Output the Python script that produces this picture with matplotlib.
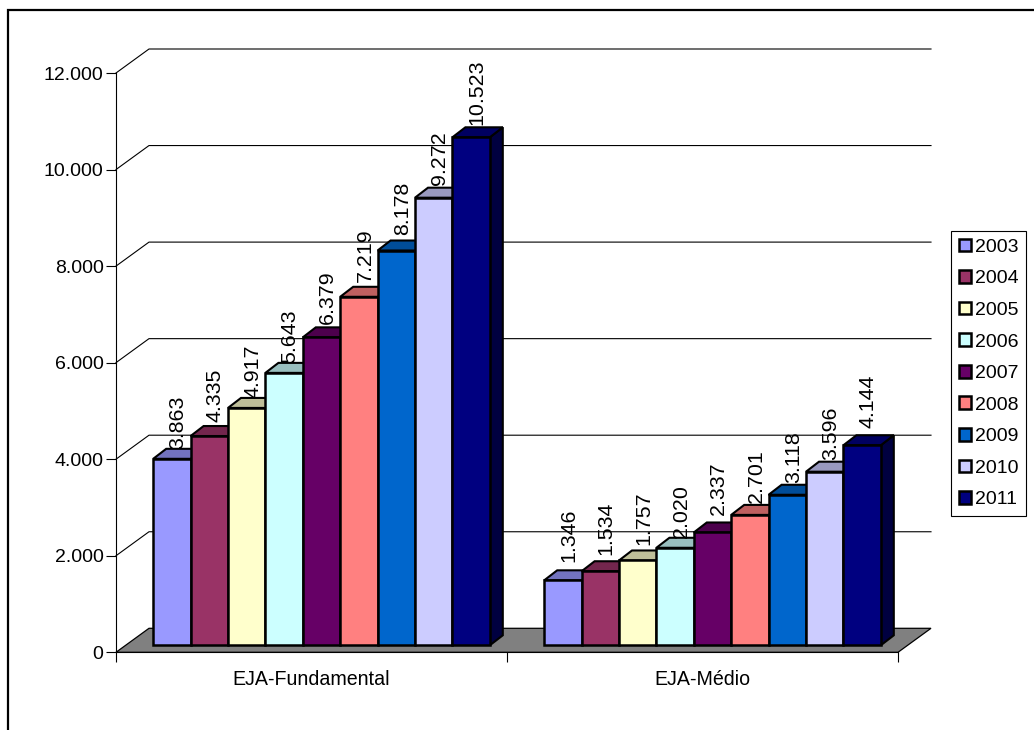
import matplotlib
matplotlib.use('Agg')
import matplotlib.pyplot as plt
from matplotlib.lines import Line2D
from matplotlib.patches import Patch, Polygon

plt.rcParams['font.family'] = ['Liberation Sans', 'DejaVu Sans']

categories = ['EJA-Fundamental', 'EJA-Médio']
years = ['2003', '2004', '2005', '2006', '2007', '2008', '2009', '2010', '2011']
fundamental = [3863, 4335, 4917, 5643, 6379, 7219, 8178, 9272, 10523]
medio = [1346, 1534, 1757, 2020, 2337, 2701, 3118, 3596, 4144]
yticks = [0, 2000, 4000, 6000, 8000, 10000, 12000]

colors = ['#9999FF', '#993366', '#FFFFCC', '#CCFFFF', '#660066',
          '#FF8080', '#0066CC', '#CCCCFF', '#000080']

W, H = 1034, 730
LEFT, RIGHT, BOTTOM, TOP = 116, 898, 652.3, 73

# pixel sizes of the oblique projection
FLOOR_DX, FLOOR_DY = 33, 24
BAR_DX, BAR_DY = 10, 7
SIDE_DX, SIDE_DY = 13, 10
BAR_W = 37.4

# small upward nudges of the value labels, in pixels
lift_fund = [0, 4, 0, 0, 3, 5, 6, 3, 2]
lift_medio = [8, 6, 5, 0, 7, 2, 2, 2, 7]


def fmt(v):
    return f'{v:,}'.replace(',', '.')


def shade(color, k):
    r, g, b = matplotlib.colors.to_rgb(color)
    return (r * k, g * k, b * k)


fig = plt.figure(figsize=(W / 100, H / 100), dpi=100)
ax = fig.add_axes([LEFT / W, 1 - BOTTOM / H, (RIGHT - LEFT) / W, (BOTTOM - TOP) / H])
ax.set_xlim(0, 2)
ax.set_ylim(0, 12000)
ax.patch.set_visible(False)

ux = 2 / (RIGHT - LEFT)
uy = 12000 / (BOTTOM - TOP)

for s in ['top', 'right']:
    ax.spines[s].set_visible(False)
ax.spines['left'].set_linewidth(0.8)
ax.spines['bottom'].set_linewidth(0.8)
ax.spines['bottom'].set_zorder(3)

# back wall lines
for t in yticks[1:]:
    ax.plot([0, FLOOR_DX * ux, 2 + FLOOR_DX * ux],
            [t, t + FLOOR_DY * uy, t + FLOOR_DY * uy],
            color='black', lw=0.8, clip_on=False, zorder=1)

# floor
ax.add_patch(Polygon([(0, 0), (FLOOR_DX * ux, FLOOR_DY * uy),
                      (2 + FLOOR_DX * ux, FLOOR_DY * uy), (2, 0)],
                     facecolor='#808080', edgecolor='black', lw=0.9,
                     clip_on=False, zorder=2))

z = 4
for g, (vals, lifts) in enumerate([(fundamental, lift_fund), (medio, lift_medio)]):
    start = g + 0.5 - 4.5 * BAR_W * ux + BAR_DX * ux
    for i, v in enumerate(vals):
        x0 = start + i * BAR_W * ux
        x1 = x0 + BAR_W * ux
        y0 = BAR_DY * uy
        y1 = y0 + v
        sx, sy = SIDE_DX * ux, SIDE_DY * uy
        ax.add_patch(Polygon([(x1, y0), (x1 + sx, y0 + sy), (x1 + sx, y1 + sy), (x1, y1)],
                             facecolor=shade(colors[i], 0.5), edgecolor='black', lw=1.5,
                             joinstyle='miter', clip_on=False, zorder=z))
        ax.add_patch(Polygon([(x0, y1), (x0 + sx, y1 + sy), (x1 + sx, y1 + sy), (x1, y1)],
                             facecolor=shade(colors[i], 0.75), edgecolor='black', lw=1.5,
                             joinstyle='miter', clip_on=False, zorder=z))
        ax.bar(x0, v, width=BAR_W * ux, bottom=y0, align='edge', color=colors[i],
               edgecolor='black', lw=1.8, clip_on=False, zorder=z + 0.5)
        ax.annotate(fmt(v), xy=(x0 + BAR_W * ux / 2, y1), xycoords='data',
                    xytext=(6, SIDE_DY + lifts[i]), textcoords='offset pixels',
                    rotation=90, ha='center', va='bottom', fontsize=15.4,
                    color='black', zorder=50, annotation_clip=False)
        z += 1

ax.set_yticks(yticks)
ax.set_yticklabels([fmt(t) for t in yticks], fontsize=14)
ax.tick_params(axis='y', length=7.5, width=0.8, pad=1.5)
ax.set_xticks([0, 1, 2])
ax.set_xticklabels([])
ax.tick_params(axis='x', which='major', length=7.5, width=0.8)
ax.set_xticks([0.5, 1.5], minor=True)
ax.set_xticklabels(categories, minor=True, fontsize=14.1)
ax.tick_params(axis='x', which='minor', length=0, pad=12.5)

handles = [Patch(facecolor=c, edgecolor='black', lw=1.8, label=y) for c, y in zip(colors, years)]
leg = fig.legend(handles=handles, loc='upper left', bbox_to_anchor=(951 / W, 1 - 231 / H),
                 bbox_transform=fig.transFigure, fontsize=14, fancybox=False,
                 edgecolor='black', framealpha=1, handlelength=0.62, handleheight=0.62,
                 handletextpad=0.2, labelspacing=0.74, borderpad=0.4, borderaxespad=0)
leg.get_frame().set_linewidth(0.8)

# outer chart border, open on the right and at the bottom
fig.add_artist(Line2D([8 / W, 8 / W, 1], [0, 1 - 10 / H, 1 - 10 / H],
                      transform=fig.transFigure, color='black', lw=1.6,
                      solid_joinstyle='miter'))

fig.savefig('out.png', dpi=100)
